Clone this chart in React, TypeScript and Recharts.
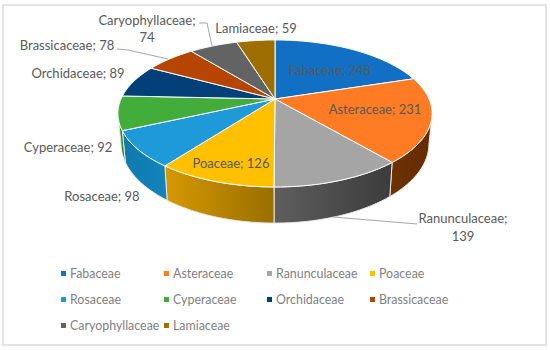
import { PieChart, Pie, Cell, Legend } from 'recharts';

const families = [
  'Fabaceae',
  'Asteraceae',
  'Ranunculaceae',
  'Poaceae',
  'Rosaceae',
  'Cyperaceae',
  'Orchidaceae',
  'Brassicaceae',
  'Caryophyllaceae',
  'Lamiaceae',
];
const counts = [248, 231, 139, 126, 98, 92, 89, 78, 74, 59];
const topColors = ['#1170c4', '#ff7c25', '#a5a5a5', '#ffc000', '#1f9ad8', '#43ad3c', '#03407a', '#b54500', '#636363', '#9e6f00'];
const wallLeft = ['#0b4f8c', '#6e3204', '#5e5e5e', '#d69800', '#1079ad', '#2f8a2a', '#022c55', '#7f3000', '#464646', '#6f4e00'];
const wallRight = ['#0b4f8c', '#642c02', '#3c3c3c', '#996f00', '#1284bc', '#2f8a2a', '#022c55', '#7f3000', '#464646', '#6f4e00'];

const data = families.map((name, i) => ({ name, value: counts[i] }));

// label placement by hand, excel moved these around
const labelSpots = [
  { x: 330, y: 70 },
  { x: 375, y: 109 },
  { x: 463, y: 218, second: 236, line: '417,224 333,217' },
  { x: 231, y: 163 },
  { x: 102, y: 196 },
  { x: 68, y: 147 },
  { x: 78, y: 73 },
  { x: 67, y: 45, line: '117,49 128,50 168,59' },
  { x: 147, y: 20, second: 37, line: '199,23 207,23 212,46' },
  { x: 256, y: 28 },
];

const TILT = 0.197; // perspective strength
const SQUASH = 0.4587;
const WALL = 29;
const RAD = Math.PI / 180;

function project(cx: number, cy: number, r: number, deg: number, lower = false) {
  const x = Math.cos(deg * RAD);
  const y = Math.sin(deg * RAD);
  const w = 1 + TILT * y;
  const px = (r * x) / w;
  const py = (r * SQUASH * y) / w;
  if (!lower) return [cx + px, cy - py];
  return [cx + px * 0.98, cy - py + WALL / w];
}

function arc(cx: number, cy: number, r: number, from: number, to: number, lower = false) {
  const pts: number[][] = [];
  const steps = Math.max(2, Math.ceil(Math.abs(to - from)));
  for (let i = 0; i <= steps; i++) {
    pts.push(project(cx, cy, r, from + ((to - from) * i) / steps, lower));
  }
  return pts;
}

const toPath = (pts: number[][]) =>
  pts.map((p, i) => `${i ? 'L' : 'M'}${p[0].toFixed(2)} ${p[1].toFixed(2)}`).join(' ');

function PerspectiveSlice(props: any) {
  const { cx, cy, outerRadius, startAngle, endAngle, fill, index } = props;
  const top = toPath([[cx, cy], ...arc(cx, cy, outerRadius, startAngle, endAngle)]) + ' Z';
  // only the front of the rim shows
  const from = Math.min(startAngle, -12);
  const to = Math.max(endAngle, -168);
  const hasWall = from > to;
  const id = `wall-${index}`;
  return (
    <g>
      {hasWall && (
        <>
          <defs>
            <linearGradient id={id} x1="0" x2="1" y1="0" y2="0">
              <stop offset="0%" stopColor={wallLeft[index]} />
              <stop offset="100%" stopColor={wallRight[index]} />
            </linearGradient>
          </defs>
          <path
            d={toPath([...arc(cx, cy, outerRadius, from, to), ...arc(cx, cy, outerRadius, to, from, true)]) + ' Z'}
            fill={`url(#${id})`}
            stroke="#e8e8e8"
            strokeWidth={1}
          />
        </>
      )}
      <path d={top} fill={fill} stroke="#ffffff" strokeWidth={1} strokeLinejoin="round" />
    </g>
  );
}

function sliceLabel(props: any) {
  const spot = labelSpots[props.index];
  const text = `${families[props.index]}; ${counts[props.index]}`;
  const common = { textAnchor: 'middle' as const, dominantBaseline: 'central' as const, fontSize: 13, fill: '#595959', fontFamily: 'Lato' };
  return (
    <g key={props.index}>
      {spot.line && <polyline points={spot.line} fill="none" stroke="#a6a6a6" strokeWidth={1} />}
      {spot.second ? (
        <>
          <text x={spot.x} y={spot.y} {...common}>{`${families[props.index]};`}</text>
          <text x={spot.x} y={spot.second} {...common}>{counts[props.index]}</text>
        </>
      ) : (
        <text x={spot.x} y={spot.y} {...common}>{text}</text>
      )}
    </g>
  );
}

function FamilyLegend({ payload }: any) {
  return (
    <div style={{ display: 'grid', gridTemplateColumns: 'repeat(4, 103px)', gridAutoRows: '26px', marginLeft: 61 }}>
      {(payload || []).map((entry: any) => (
        <div key={entry.value} style={{ display: 'flex', alignItems: 'center', whiteSpace: 'nowrap' }}>
          <span style={{ width: 5, height: 5, background: entry.color, marginRight: 4, flex: 'none' }} />
          <span style={{ fontFamily: 'Lato', fontSize: 12.4, color: '#7f7f7f' }}>{entry.value}</span>
        </div>
      ))}
    </div>
  );
}

export default function App() {
  return (
    <div style={{ position: 'absolute', left: 0, top: 0, width: 550, height: 350, background: '#fff' }}>
      <div style={{ position: 'absolute', left: 2, top: 4, width: 541, height: 338, border: '2px solid #e3e3e3' }} />
      <PieChart width={550} height={350} margin={{ top: 0, right: 0, bottom: 0, left: 0 }} style={{ position: 'absolute', left: 0, top: 0 }}>
        <Pie
          data={data}
          dataKey="value"
          nameKey="name"
          cx={275}
          cy={99}
          outerRadius={154}
          startAngle={90}
          endAngle={-270}
          shape={PerspectiveSlice}
          label={sliceLabel}
          labelLine={false}
          isAnimationActive={false}
        >
          {families.map((name, i) => (
            <Cell key={name} fill={topColors[i]} />
          ))}
        </Pie>
        <Legend content={FamilyLegend} itemSorter={null} wrapperStyle={{ left: 0, top: 260, bottom: 'auto', width: 550 }} />
      </PieChart>
    </div>
  );
}
